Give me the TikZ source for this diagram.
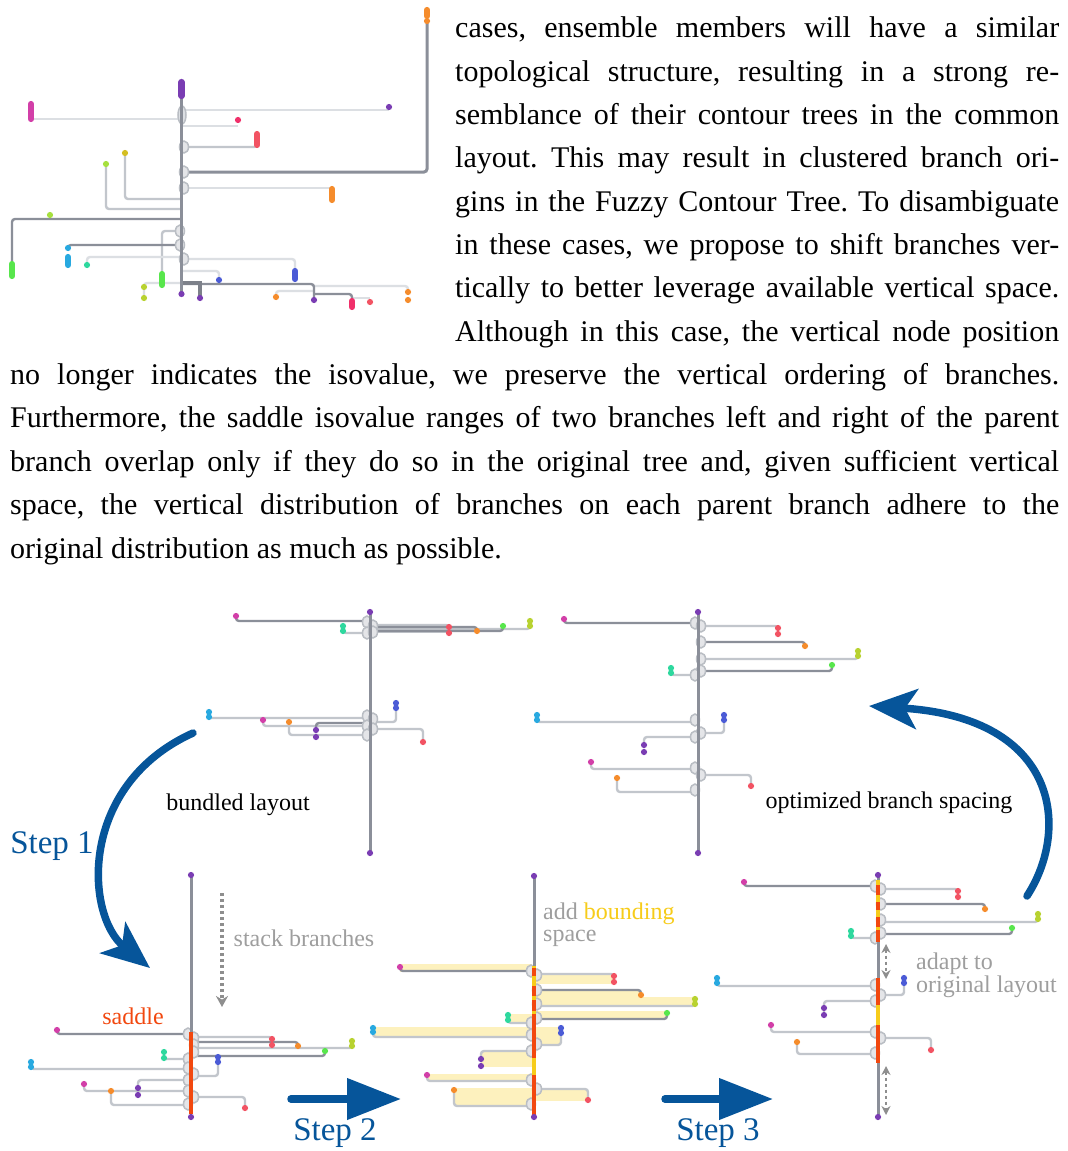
\documentclass[tikz,border=0pt]{standalone}
\usepackage{fontspec}
\setmainfont{Liberation Serif}
\usetikzlibrary{arrows.meta}
\frenchspacing
\definecolor{dkg}{HTML}{8B8F99}
\definecolor{ltg}{HTML}{C2C6CC}
\definecolor{vlg}{HTML}{DCDFE3}
\definecolor{mg}{HTML}{D23FA8}
\definecolor{rd}{HTML}{F25363}
\definecolor{pk}{HTML}{F0306A}
\definecolor{orc}{HTML}{F58C2C}
\definecolor{yg}{HTML}{B8D230}
\definecolor{gr}{HTML}{58E64C}
\definecolor{tl}{HTML}{2ED89E}
\definecolor{cy}{HTML}{28A9E0}
\definecolor{bl}{HTML}{4B5BD6}
\definecolor{pu}{HTML}{7A3DB3}
\definecolor{ye}{HTML}{D4BE22}
\definecolor{lm}{HTML}{A6E03E}
\definecolor{arrblue}{HTML}{06559A}
\definecolor{sad}{HTML}{F2480F}
\definecolor{yel}{HTML}{F7CC1A}
\definecolor{boxy}{HTML}{FDF1BE}
\definecolor{lbl}{HTML}{9E9E9E}
\tikzset{
  dk/.style={draw=dkg,line width=2.4pt,rounded corners=3pt},
  lt/.style={draw=ltg,line width=2.4pt,rounded corners=3pt},
  vl/.style={draw=vlg,line width=2.4pt,rounded corners=3pt},
  trunk/.style={draw=dkg,line width=3pt},
  bul/.style={draw=ltg!85!dkg,line width=1.5pt,fill=ltg!45},
  bluearr/.style={draw=arrblue,line width=7.5pt},
  dotarr/.style={draw=lbl!90!black,line width=3.2pt,dash pattern=on 3pt off 3pt},
  bodytext/.style={anchor=base west,inner sep=0pt,font=\fontsize{30}{36}\selectfont},
  lab/.style={inner sep=0pt,font=\fontsize{24}{26}\selectfont},
  steplab/.style={inner sep=0pt,text=arrblue,font=\fontsize{33}{36}\selectfont}
}
\newcommand\D[3]{\fill[#1] (#2,#3) circle (3.1pt);}
\newcommand\DD[4]{\fill[#1] (#2,#3) circle (3.1pt) (#2,#4) circle (3.1pt);}
\newcommand\Bl[4]{\draw[#1,line width=6.2pt,line cap=round] (#2,#3)--(#2,#4);}
\newcommand\bu[2]{\draw[bul] (#1,#2) ellipse (4.5pt and 6pt);}
\newcommand\seg[4]{\draw[#1,line width=3.6pt] (#2,#3)--(#2,#4);}
\begin{document}
\begin{tikzpicture}[x=1pt,y=-1pt]
\useasboundingbox[fill=white] (0,0) rectangle (1068,1151);

% ---------------- body text ----------------
\node[bodytext] (t1) at (455,37.7) {\makebox[604pt][s]{cases, ensemble members will have a similar}};
\node[bodytext] (t2) at (455,81) {\makebox[604pt][s]{topological structure, resulting in a strong re-}};
\node[bodytext] (t3) at (455,124.4) {\makebox[604pt][s]{semblance of their contour trees in the common}};
\node[bodytext] (t4) at (455,167.7) {\makebox[604pt][s]{layout. This may result in clustered branch ori-}};
\node[bodytext] (t5) at (455,211) {\makebox[604pt][s]{gins in the Fuzzy Contour Tree. To disambiguate}};
\node[bodytext] (t6) at (455,254.5) {\makebox[604pt][s]{in these cases, we propose to shift branches ver-}};
\node[bodytext] (t7) at (455,297.8) {\makebox[604pt][s]{tically to better leverage available vertical space.}};
\node[bodytext] (t8) at (455,341) {\makebox[604pt][s]{Although in this case, the vertical node position}};
\node[bodytext] (t9) at (10,384.5) {\makebox[1049pt][s]{no longer indicates the isovalue, we preserve the vertical ordering of branches.}};
\node[bodytext] (t10) at (10,427.8) {\makebox[1049pt][s]{Furthermore, the saddle isovalue ranges of two branches left and right of the parent}};
\node[bodytext] (t11) at (10,471) {\makebox[1049pt][s]{branch overlap only if they do so in the original tree and, given sufficient vertical}};
\node[bodytext] (t12) at (10,514.5) {\makebox[1049pt][s]{space, the vertical distribution of branches on each parent branch adhere to the}};
\node[bodytext] (t13) at (10,558) {original distribution as much as possible.};

% ---------------- Tree A (top left) ----------------
\draw[vl] (181.5,110) -- (389,110);
\draw[vl] (181.5,119) -- (31,119);
\draw[vl] (181.5,126) -- (238,126);
\draw[lt] (181.5,147) -| (257,140);
\draw[dkg,line width=3pt,rounded corners=3pt] (181.5,172) -| (427,22);
\draw[vl] (181.5,188) -- (332,188);
\draw[lt] (181.5,199) -| (125,153);
\draw[lt] (181.5,209) -| (106,164);
\draw[dk] (181.5,219) -| (12,268);
\draw[lt] (181.5,231) -| (162,278);
\draw[dk] (181.5,245) -| (68,250);
\draw[vl] (181.5,257) -| (87,264);
\draw[vl] (181.5,259) -| (295,272);
\draw[vl] (181.5,271) -| (219,280);
\draw[vl] (181.5,283) -| (144,298);
\draw[vl] (314,286) -| (408,292);
\draw[vl] (314,291) -| (276,297);
\draw[vl] (352,298) -- (370,298);
\draw[dk] (181.5,284) -| (314,300);
\draw[dk] (314,294) -| (352,302);
\draw[dkg!90!black,line width=3.4pt] (181.5,283) -| (200,298);
\draw[bul,fill=vlg] (182,115) ellipse (4pt and 9pt);
\bu{184}{147}\bu{184}{172}\bu{184}{188}\bu{180}{231}\bu{180}{245}\bu{184}{259}
\draw[trunk] (181.5,90) -- (181.5,294);
\Bl{pu}{181.5}{82}{96}
\Bl{mg}{31}{104}{119}
\D{pu}{389}{107}
\D{pk}{238}{120}
\Bl{rd}{257}{134}{145}
\Bl{orc}{427}{10}{16}\D{orc}{427}{21}
\Bl{orc}{332}{189}{200}
\D{ye}{125}{153}
\D{lm}{106}{164}
\D{lm}{50}{215}
\Bl{gr}{12}{264}{276}
\Bl{gr}{162}{274}{285}
\D{cy}{68}{248}\Bl{cy}{68}{257}{265}
\D{tl}{87}{265}
\Bl{bl}{295}{271}{279}
\D{bl}{219}{280}
\DD{yg}{144}{287}{298}
\D{pu}{200}{298}
\D{pu}{314}{300}
\D{pu}{181.5}{294}
\DD{orc}{408}{292}{300}
\Bl{pk}{352}{301}{307}
\D{rd}{370}{302}
\D{orc}{276}{297}

% ---------------- Tree B (bundled) ----------------
\fill[ltg] (372,624) rectangle (449,633);
\draw[dk] (370,621) -| (236,616);
\draw[lt] (370,633) -| (343,627);
\draw[lt] (370,625) -| (449,630);
\draw[lt] (449,629) -- (530,629) -- (530,623);
\draw[dk] (370,627) -| (477,631);
\draw[dk] (370,631) -| (503,626);
\draw[lt] (370,718) -| (209,714);
\draw[lt] (370,726) -| (263,720);
\draw[lt] (370,735) -| (289,723);
\draw[dk] (370,723) -| (316,733);
\draw[lt] (370,722) -| (396,708);
\draw[lt] (370,729) -| (423,742);
\bu{367}{622}\bu{373}{626}\bu{367}{633}\bu{373}{632}
\bu{367}{716}\bu{373}{719}\bu{367}{726}\bu{373}{729}\bu{367}{735}
\draw[trunk] (370,612) -- (370,853);
\D{pu}{370}{612}\D{pu}{370}{853}
\D{mg}{236}{616}
\DD{tl}{343}{626}{631}
\DD{rd}{449}{627}{633}
\D{orc}{477}{631}
\D{gr}{503}{626}
\DD{yg}{530}{621}{626}
\DD{cy}{209}{712}{717}
\D{mg}{263}{720}
\D{orc}{289}{722}
\DD{pu}{316}{730}{737}
\DD{bl}{396}{703}{708}
\D{rd}{423}{742}

% ---------------- Tree C (optimized) ----------------
\draw[dk] (698,623) -| (564,619);
\draw[lt] (698,626) -| (778,630);
\draw[dk] (698,642) -| (805,646);
\draw[lt] (698,659) -| (858,654);
\draw[dk] (698,671) -| (832,665);
\draw[lt] (698,675) -| (671,670);
\draw[lt] (698,722) -| (537,718);
\draw[lt] (698,733) -| (724,720);
\draw[lt] (698,737) -| (644,748);
\draw[lt] (698,769) -| (591,762);
\draw[lt] (698,775) -| (751,786);
\draw[lt] (698,792) -| (617,778);
\bu{695}{623}\bu{701}{626}\bu{701}{642}\bu{701}{659}\bu{701}{671}\bu{695}{675}
\bu{695}{720}\bu{701}{733}\bu{695}{737}\bu{695}{768}\bu{701}{775}\bu{695}{790}
\draw[trunk] (698,612) -- (698,853);
\D{pu}{698}{612}\D{pu}{698}{853}
\D{mg}{564}{619}
\DD{rd}{778}{628}{634}
\D{orc}{805}{646}
\DD{yg}{858}{651}{656}
\D{gr}{832}{665}
\DD{tl}{671}{668}{673}
\DD{cy}{537}{715}{720}
\DD{bl}{724}{715}{720}
\DD{pu}{644}{745}{752}
\D{mg}{591}{762}
\D{rd}{751}{786}
\D{orc}{617}{778}

% ---------------- Tree D (stacked) ----------------
\draw[dk] (191,1034) -| (57,1030);
\draw[lt] (191,1037) -| (272,1045);
\draw[dk] (191,1042) -| (298,1046);
\draw[lt] (191,1048) -| (352,1043);
\draw[dk] (191,1056) -| (325,1051);
\draw[lt] (191,1059) -| (164,1055);
\draw[lt] (191,1069) -| (31,1065);
\draw[lt] (191,1076) -| (218,1062);
\draw[lt] (191,1080) -| (138,1092);
\draw[lt] (191,1091) -| (84,1084);
\draw[lt] (191,1097) -| (245,1108);
\draw[lt] (191,1105) -| (111,1091);
\bu{188}{1034}\bu{194}{1038}\bu{194}{1045}\bu{194}{1052}\bu{188}{1059}\bu{188}{1068}
\bu{194}{1074}\bu{188}{1080}\bu{188}{1091}\bu{194}{1097}\bu{188}{1104}
\draw[trunk] (191,875) -- (191,1032);
\seg{sad}{191}{1032}{1114}
\D{pu}{191}{875}\D{pu}{191}{1117}
\D{mg}{57}{1030}
\DD{rd}{272}{1039}{1045}
\D{orc}{298}{1046}
\DD{yg}{352}{1041}{1046}
\D{gr}{325}{1051}
\DD{tl}{164}{1052}{1058}
\DD{bl}{218}{1057}{1062}
\DD{cy}{31}{1062}{1067}
\DD{pu}{138}{1088}{1095}
\D{mg}{84}{1084}
\D{orc}{111}{1091}
\D{rd}{245}{1108}
\draw[dotarr,-{Stealth[length=11pt,width=12pt]}] (222,893) -- (222,1007);

% ---------------- Tree E (bounding space) ----------------
\fill[boxy] (400,964) rectangle (532,972);
\fill[boxy] (536,975) rectangle (614,984);
\fill[boxy] (536,990) rectangle (641,997);
\fill[boxy] (536,997) rectangle (695,1006);
\fill[boxy] (536,1011) rectangle (667,1019);
\fill[boxy] (508,1014) rectangle (532,1023);
\fill[boxy] (373,1027) rectangle (532,1036);
\fill[boxy] (536,1027) rectangle (561,1045);
\fill[boxy] (481,1051) rectangle (532,1067);
\fill[boxy] (427,1074) rectangle (532,1081);
\fill[boxy] (536,1089) rectangle (588,1101);
\fill[boxy] (454,1088) rectangle (532,1105);
\draw[dk] (534,971) -| (400,967);
\draw[lt] (534,974) -| (614,982);
\draw[dk] (534,990) -| (641,995);
\draw[lt] (534,1006) -| (695,1002);
\draw[dk] (534,1019) -| (667,1013);
\draw[lt] (534,1023) -| (508,1017);
\draw[lt] (534,1037) -| (373,1030);
\draw[lt] (534,1045) -| (561,1030);
\draw[lt] (534,1051) -| (481,1062);
\draw[lt] (534,1081) -| (427,1075);
\draw[lt] (534,1089) -| (588,1100);
\draw[lt] (534,1106) -| (454,1090);
\bu{531}{971}\bu{537}{975}\bu{537}{990}\bu{537}{1004}\bu{537}{1018}\bu{531}{1023}
\bu{531}{1035}\bu{537}{1044}\bu{531}{1051}\bu{531}{1080}\bu{537}{1089}\bu{531}{1104}
\draw[trunk] (534,876) -- (534,966);
\seg{yel}{534}{966}{968}
\seg{sad}{534}{968}{976}
\seg{yel}{534}{976}{986}
\seg{sad}{534}{986}{996}
\seg{yel}{534}{996}{1000}
\seg{sad}{534}{1000}{1011}
\seg{yel}{534}{1011}{1014}
\seg{sad}{534}{1014}{1058}
\seg{yel}{534}{1058}{1075}
\seg{sad}{534}{1075}{1115}
\D{pu}{534}{876}\D{pu}{534}{1117}
\D{mg}{400}{967}
\DD{rd}{614}{976}{982}
\D{orc}{641}{995}
\DD{yg}{695}{999}{1004}
\D{gr}{667}{1013}
\DD{tl}{508}{1015}{1020}
\DD{cy}{373}{1028}{1032}
\DD{bl}{561}{1028}{1033}
\DD{pu}{481}{1059}{1066}
\D{mg}{427}{1075}
\D{rd}{588}{1100}
\D{orc}{454}{1090}

% ---------------- Tree F (adapted) ----------------
\draw[dk] (878,886) -| (744,882);
\draw[lt] (878,889) -| (958,894);
\draw[dk] (878,904) -| (985,909);
\draw[lt] (878,922) -| (1038,917);
\draw[dk] (878,934) -| (1012,928);
\draw[lt] (878,938) -| (851,933);
\draw[lt] (878,986) -| (717,981);
\draw[lt] (878,995) -| (904,982);
\draw[lt] (878,1001) -| (824,1012);
\draw[lt] (878,1032) -| (771,1025);
\draw[lt] (878,1038) -| (931,1050);
\draw[lt] (878,1054) -| (797,1042);
\bu{875}{886}\bu{881}{889}\bu{881}{904}\bu{881}{920}\bu{881}{933}\bu{875}{938}
\bu{875}{985}\bu{881}{995}\bu{875}{1001}\bu{875}{1032}\bu{881}{1038}\bu{875}{1053}
\draw[trunk] (878,875) -- (878,1117);
\seg{yel}{878}{880}{885}
\seg{sad}{878}{885}{895}
\seg{yel}{878}{895}{902}
\seg{sad}{878}{902}{910}
\seg{yel}{878}{910}{917}
\seg{sad}{878}{917}{927}
\seg{yel}{878}{927}{930}
\seg{sad}{878}{930}{942}
\seg{sad}{878}{978}{1005}
\seg{yel}{878}{1005}{1025}
\seg{sad}{878}{1025}{1063}
\D{pu}{878}{875}\D{pu}{878}{1117}
\D{mg}{744}{882}
\DD{rd}{958}{891}{897}
\D{orc}{985}{909}
\DD{yg}{1038}{914}{919}
\D{gr}{1012}{928}
\DD{tl}{851}{931}{936}
\DD{cy}{717}{978}{983}
\DD{bl}{904}{978}{983}
\DD{pu}{824}{1008}{1015}
\D{mg}{771}{1025}
\D{rd}{931}{1050}
\D{orc}{797}{1042}
\draw[dotarr,line width=2.6pt,{Stealth[length=9pt,width=9pt]}-{Stealth[length=9pt,width=9pt]}] (886,944) -- (886,979);
\draw[dotarr,line width=2.6pt,{Stealth[length=9pt,width=9pt]}-{Stealth[length=9pt,width=9pt]}] (886,1066) -- (886,1115);

% ---------------- Step arrows ----------------
\coordinate (s1a) at (193,733);
\coordinate (s1b) at (150,968);
\draw[bluearr,line cap=round,-{Stealth[length=48pt,width=40pt,inset=12pt]}] (s1a) .. controls (78,785) and (85,915) .. (s1b);
\coordinate (s2a) at (291,1099);
\coordinate (s2b) at (401,1099);
\draw[bluearr,line cap=round,-{Triangle[length=54pt,width=40pt]}] (s2a) -- (s2b);
\coordinate (s3a) at (665,1099);
\coordinate (s3b) at (773,1099);
\draw[bluearr,line cap=round,-{Triangle[length=54pt,width=40pt]}] (s3a) -- (s3b);
\coordinate (s4a) at (1027,896);
\coordinate (s4b) at (869,706);
\draw[bluearr,line cap=round,-{Stealth[length=48pt,width=40pt,inset=12pt]}] (s4a) .. controls (1070,830) and (1060,718) .. (s4b);

% ---------------- Labels ----------------
\node[steplab] (l1) at (52,846) {Step 1};
\node[steplab] (l2) at (335,1133) {Step 2};
\node[steplab] (l3) at (718,1133) {Step 3};
\node[lab] (lb) at (238,805) {bundled layout};
\node[lab] (lo) at (889,803) {optimized branch spacing};
\node[lab,text=sad] (ls) at (133,1016) {saddle};
\node[lab,text=lbl] (lst) at (304,938) {stack branches};
\node[lab,text=lbl,anchor=north west,align=left,font=\fontsize{24}{22}\selectfont] (lad) at (543,902.5) {add \textcolor{yel}{bounding}\\space};
\node[lab,text=lbl,anchor=base west] (lap) at (916,969) {adapt to};
\node[lab,text=lbl,anchor=base west] (lor) at (916,992) {original layout};
\end{tikzpicture}
\end{document}
